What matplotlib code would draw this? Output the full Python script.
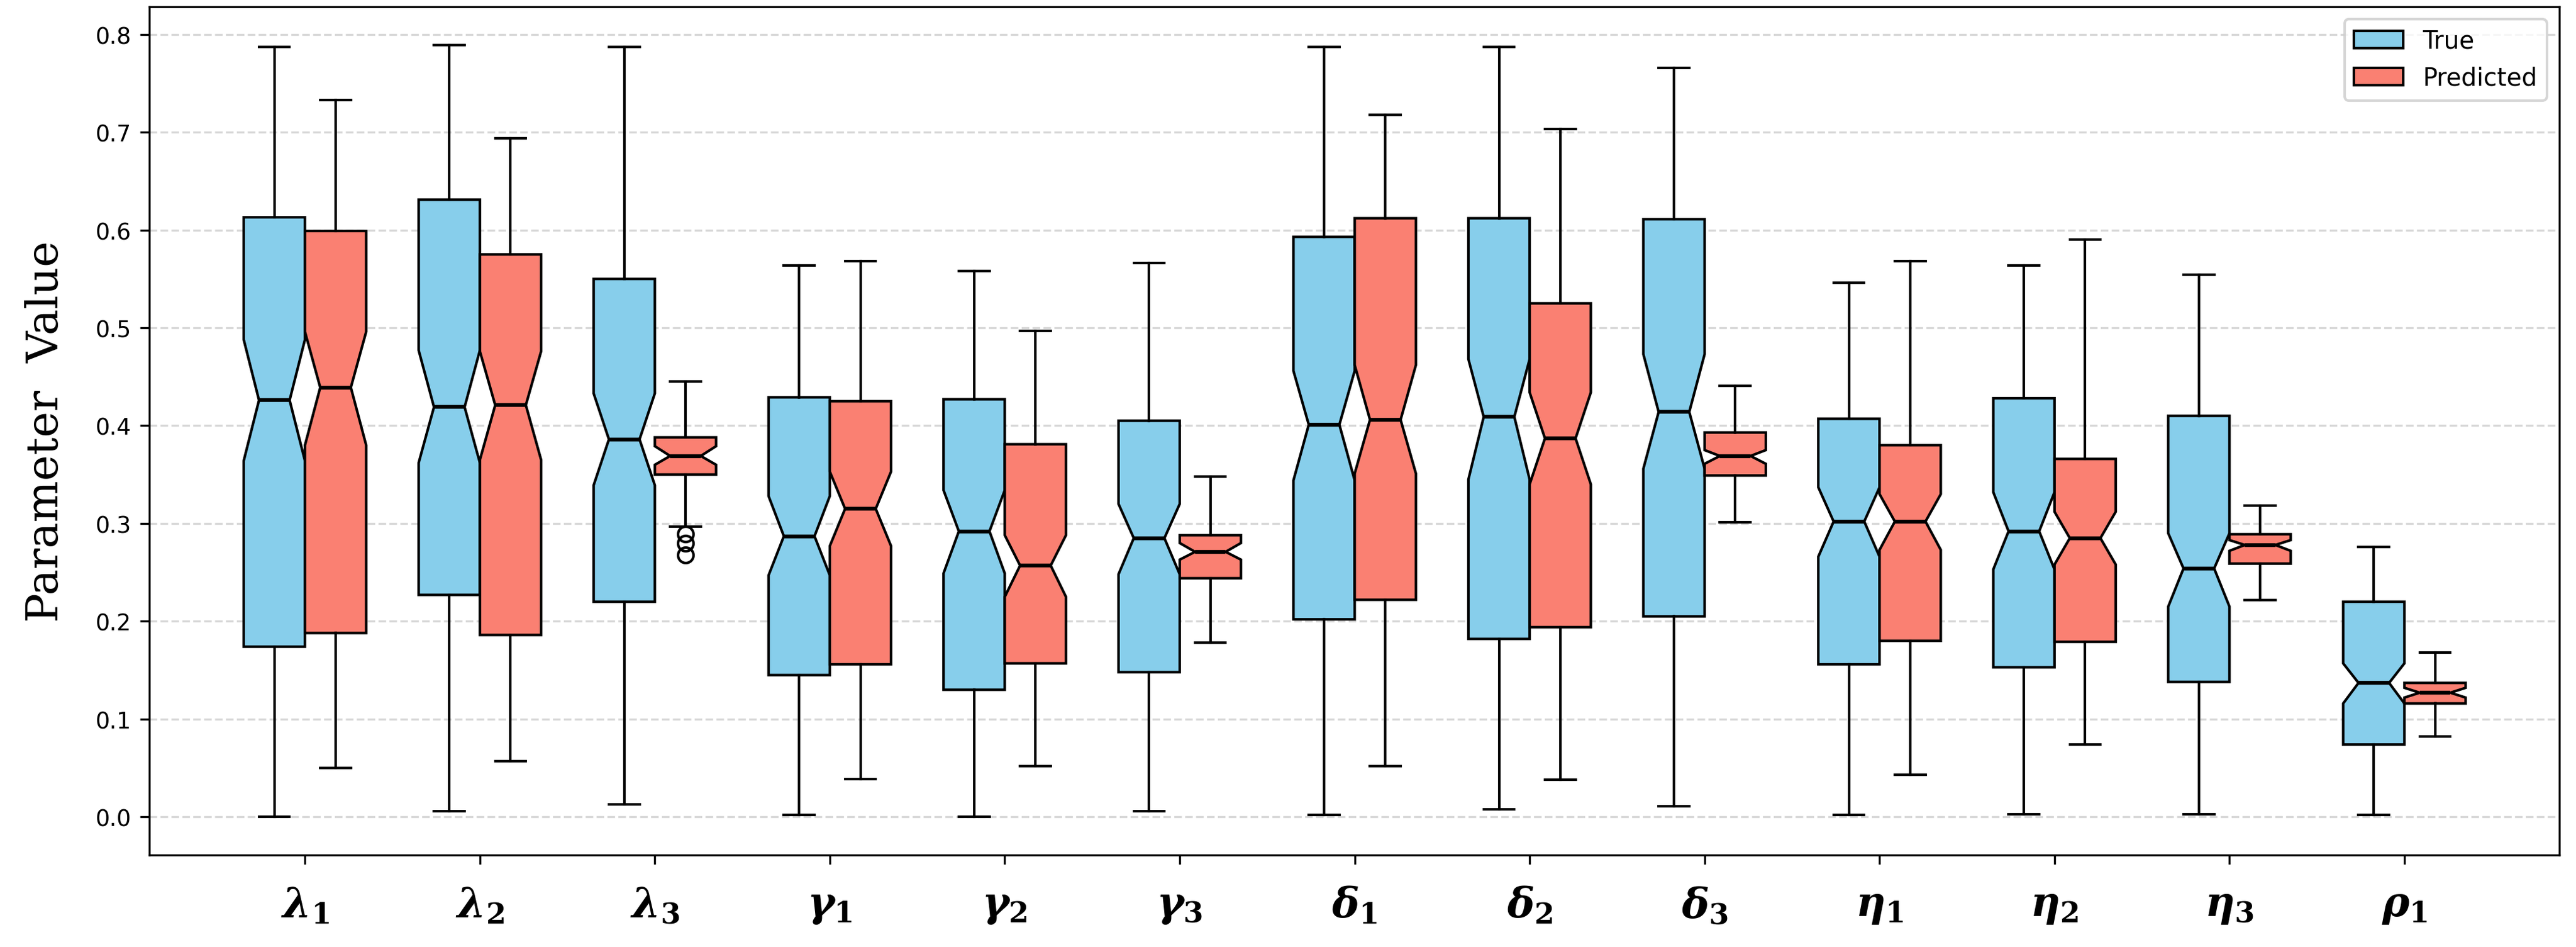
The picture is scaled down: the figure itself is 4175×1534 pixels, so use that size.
import numpy as np
import matplotlib.pyplot as plt
from matplotlib.patches import Patch

plt.rcParams['mathtext.fontset'] = 'custom'
plt.rcParams['mathtext.it'] = 'DejaVu Serif:italic:bold'
plt.rcParams['mathtext.rm'] = 'DejaVu Serif:bold'
plt.rcParams['mathtext.bf'] = 'DejaVu Serif:bold'

params = [r'$\lambda_1$', r'$\lambda_2$', r'$\lambda_3$',
          r'$\gamma_1$', r'$\gamma_2$', r'$\gamma_3$',
          r'$\delta_1$', r'$\delta_2$', r'$\delta_3$',
          r'$\eta_1$', r'$\eta_2$', r'$\eta_3$', r'$\rho_1$']

# summary stats (true parameters)
true_whishi = [0.787, 0.789, 0.787, 0.564, 0.558, 0.566, 0.787, 0.787, 0.766, 0.546, 0.564, 0.554, 0.276]
true_q3 = [0.613, 0.631, 0.550, 0.429, 0.427, 0.405, 0.593, 0.612, 0.611, 0.407, 0.428, 0.410, 0.220]
true_cihi = [0.488, 0.477, 0.433, 0.328, 0.334, 0.320, 0.456, 0.468, 0.473, 0.337, 0.332, 0.290, 0.157]
true_med = [0.426, 0.419, 0.386, 0.287, 0.292, 0.285, 0.401, 0.409, 0.414, 0.302, 0.292, 0.254, 0.137]
true_cilo = [0.364, 0.362, 0.339, 0.247, 0.249, 0.248, 0.344, 0.345, 0.356, 0.266, 0.253, 0.215, 0.116]
true_q1 = [0.174, 0.227, 0.220, 0.145, 0.130, 0.148, 0.202, 0.182, 0.205, 0.156, 0.153, 0.138, 0.074]
true_whislo = [0.000, 0.006, 0.013, 0.002, 0.000, 0.006, 0.002, 0.008, 0.011, 0.002, 0.003, 0.003, 0.002]

# predicted parameters
pred_whishi = [0.733, 0.694, 0.445, 0.568, 0.497, 0.348, 0.718, 0.703, 0.441, 0.568, 0.590, 0.318, 0.168]
pred_q3 = [0.599, 0.575, 0.388, 0.425, 0.381, 0.288, 0.612, 0.525, 0.393, 0.380, 0.366, 0.289, 0.137]
pred_cihi = [0.496, 0.476, 0.379, 0.353, 0.288, 0.280, 0.462, 0.434, 0.375, 0.330, 0.312, 0.283, 0.132]
pred_med = [0.439, 0.421, 0.369, 0.315, 0.257, 0.271, 0.406, 0.387, 0.369, 0.302, 0.285, 0.278, 0.127]
pred_cilo = [0.380, 0.365, 0.360, 0.277, 0.225, 0.263, 0.351, 0.340, 0.361, 0.273, 0.258, 0.272, 0.122]
pred_q1 = [0.188, 0.186, 0.350, 0.156, 0.157, 0.244, 0.222, 0.194, 0.349, 0.180, 0.179, 0.259, 0.116]
pred_whislo = [0.050, 0.057, 0.297, 0.039, 0.052, 0.178, 0.052, 0.038, 0.301, 0.043, 0.074, 0.222, 0.082]
pred_fliers = [[], [], [0.289, 0.280, 0.268], [], [], [], [], [], [], [], [], [], []]

true_color = 'skyblue'
pred_color = 'salmon'


def make_stats(whislo, q1, cilo, med, cihi, q3, whishi, fliers=None):
    stats = []
    for i in range(len(med)):
        stats.append(dict(whislo=whislo[i], q1=q1[i], cilo=cilo[i], med=med[i],
                          cihi=cihi[i], q3=q3[i], whishi=whishi[i],
                          fliers=fliers[i] if fliers else []))
    return stats


true_stats = make_stats(true_whislo, true_q1, true_cilo, true_med,
                        true_cihi, true_q3, true_whishi)
pred_stats = make_stats(pred_whislo, pred_q1, pred_cilo, pred_med,
                        pred_cihi, pred_q3, pred_whishi, pred_fliers)

fig, ax = plt.subplots(figsize=(4175 / 300, 1535 / 300), dpi=300)
fig.subplots_adjust(left=0.058, right=0.9935, bottom=0.097, top=0.992)

x = np.arange(1, len(params) + 1)
offset = 0.175
width = 0.35

box_kw = dict(widths=width, shownotches=True, patch_artist=True,
              medianprops=dict(color='black', linewidth=1.5),
              flierprops=dict(marker='o', markerfacecolor='none',
                              markeredgecolor='black'),
              manage_ticks=False)

bp_true = ax.bxp(true_stats, positions=x - offset, **box_kw)
bp_pred = ax.bxp(pred_stats, positions=x + offset, **box_kw)

for patch in bp_true['boxes']:
    patch.set_facecolor(true_color)
    patch.set_edgecolor('black')
for patch in bp_pred['boxes']:
    patch.set_facecolor(pred_color)
    patch.set_edgecolor('black')

ax.set_xticks(x)
ax.set_xticklabels(params, fontsize=16)
ax.tick_params(axis='x', pad=8)
ax.tick_params(axis='y', labelsize=8.8)
ax.set_xlim(0.111, 13.885)
ax.set_ylim(-0.039, 0.828)

ax.set_ylabel('Parameter  Value', fontsize=17, family='DejaVu Serif')
ax.yaxis.set_label_coords(-0.034, 0.5)

ax.yaxis.grid(True, linestyle='--', alpha=0.5)
ax.set_axisbelow(True)

handles = [Patch(facecolor=true_color, edgecolor='black', label='True'),
           Patch(facecolor=pred_color, edgecolor='black', label='Predicted')]
ax.legend(handles=handles, loc='upper right', fontsize=9.5)

fig.savefig('out.png', dpi=300)
